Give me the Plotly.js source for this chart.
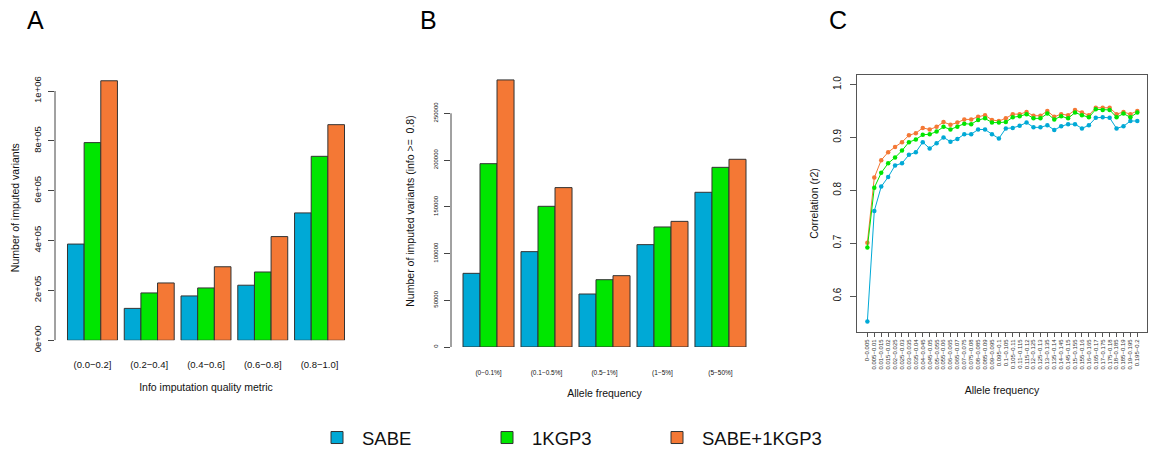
<!DOCTYPE html>
<html><head><meta charset="utf-8">
<script src="https://cdn.plot.ly/plotly-3.0.1.min.js"></script>
<style>html,body{margin:0;padding:0;background:#fff}#chart{width:1150px;height:457px}</style>
</head><body><div id="chart"></div>
<script>
// ---------- data ----------
const seriesNames = ["SABE", "1KGP3", "SABE+1KGP3"];
const seriesColors = ["#00A9D6", "#00E600", "#F47835"];

// Panel A
const infoBins = ["(0.0−0.2]", "(0.2−0.4]", "(0.4−0.6]", "(0.6−0.8]", "(0.8−1.0]"];
const infoSABE = [386000, 128000, 178000, 221000, 511000];
const info1KGP3 = [793000, 190000, 210000, 274000, 738000];
const infoBoth = [1041000, 230000, 295000, 416000, 865000];
const infoYTicks = [0, 200000, 400000, 600000, 800000, 1000000];
const infoYTickText = ["0e+00", "2e+05", "4e+05", "6e+05", "8e+05", "1e+06"];

// Panel B
const afBins = ["(0−0.1%]", "(0.1−0.5%]", "(0.5−1%]", "(1−5%]", "(5−50%]"];
const afSABE = [78800, 102000, 56700, 109500, 165500];
const af1KGP3 = [196100, 150500, 72000, 128400, 192200];
const afBoth = [285700, 170500, 76300, 134400, 200800];
const afYTicks = [0, 50000, 100000, 150000, 200000, 250000];
const afYTickText = ["0", "50000", "100000", "150000", "200000", "250000"];

// Panel C
const corrBins = ["0−0.005","0.005−0.01","0.01−0.015","0.015−0.02","0.02−0.025","0.025−0.03","0.03−0.035","0.035−0.04","0.04−0.045","0.045−0.05",
  "0.05−0.055","0.055−0.06","0.06−0.065","0.065−0.07","0.07−0.075","0.075−0.08","0.08−0.085","0.085−0.09","0.09−0.095","0.095−0.1",
  "0.1−0.105","0.105−0.11","0.11−0.115","0.115−0.12","0.12−0.125","0.125−0.13","0.13−0.135","0.135−0.14","0.14−0.145","0.145−0.15",
  "0.15−0.155","0.155−0.16","0.16−0.165","0.165−0.17","0.17−0.175","0.175−0.18","0.18−0.185","0.185−0.19","0.19−0.195","0.195−0.2"];
const corrSABE = [0.552,0.761,0.807,0.825,0.847,0.851,0.867,0.872,0.891,0.879,0.889,0.900,0.892,0.897,0.906,0.906,
  0.915,0.915,0.906,0.898,0.917,0.918,0.922,0.928,0.919,0.919,0.923,0.914,0.921,0.925,0.925,0.917,0.923,0.937,0.938,0.937,0.917,0.921,0.931,0.931];
const corr1KGP3 = [0.692,0.805,0.833,0.851,0.862,0.875,0.891,0.896,0.905,0.906,0.911,0.920,0.915,0.920,0.926,0.925,
  0.933,0.936,0.928,0.928,0.929,0.938,0.940,0.944,0.936,0.936,0.945,0.934,0.940,0.936,0.947,0.942,0.938,0.953,0.952,0.952,0.938,0.945,0.938,0.947];
const corrBoth = [0.701,0.824,0.857,0.872,0.882,0.891,0.904,0.908,0.918,0.915,0.920,0.929,0.924,0.928,0.934,0.934,
  0.939,0.942,0.933,0.931,0.936,0.944,0.944,0.948,0.941,0.941,0.950,0.939,0.944,0.942,0.952,0.947,0.942,0.956,0.956,0.956,0.944,0.948,0.944,0.950];
const corrYTicks = [0.6, 0.7, 0.8, 0.9, 1.0];
const corrYTickText = ["0.6", "0.7", "0.8", "0.9", "1.0"];

// ---------- layout helpers ----------
const W = 1150, H = 457;
const px = v => v / W;
const py = v => 1 - v / H;
const FONT = "Liberation Sans, Arial, Helvetica, sans-serif";
const edge = "#333333";

function barTrace(x, y, i, xa, ya, legend) {
  return {type: "bar", x: x, y: y, name: seriesNames[i], xaxis: xa, yaxis: ya,
    marker: {color: seriesColors[i], line: {color: edge, width: 1}},
    showlegend: legend, legendgroup: seriesNames[i], hoverinfo: "x+y+name"};
}
function lineTrace(x, y, i) {
  return {type: "scatter", mode: "lines+markers", x: x, y: y, name: seriesNames[i], xaxis: "x3", yaxis: "y3",
    line: {color: seriesColors[i], width: 1}, marker: {color: seriesColors[i], size: 4.5},
    showlegend: false, legendgroup: seriesNames[i]};
}

const infoSeries = [infoSABE, info1KGP3, infoBoth];
const afSeries = [afSABE, af1KGP3, afBoth];
const corrSeries = [corrSABE, corr1KGP3, corrBoth];

const traces = [];
infoSeries.forEach((s, i) => traces.push(barTrace(infoBins, s, i, "x", "y", true)));
afSeries.forEach((s, i) => traces.push(barTrace(afBins, s, i, "x2", "y2", false)));
[0, 2, 1].forEach(i => traces.push(lineTrace(corrBins, corrSeries[i], i)));

const titleFont = {family: FONT, size: 10.5, color: "#111"};

const layout = {
  width: W, height: H,
  margin: {l: 0, r: 0, t: 0, b: 0},
  paper_bgcolor: "#fff", plot_bgcolor: "#fff",
  font: {family: FONT, color: "#111"},
  barmode: "group", bargap: 0.12, bargroupgap: 0,
  showlegend: true,
  legend: {orientation: "h", x: px(312), xanchor: "left", y: 0, yanchor: "bottom",
    font: {family: FONT, size: 18.5, color: "#111"}, entrywidth: 115, entrywidthmode: "pixels",
    itemwidth: 40, bgcolor: "rgba(0,0,0,0)", traceorder: "normal"},
  xaxis: {domain: [px(55), px(357)], anchor: "y", type: "category", range: [-0.66, 4.66],
    showline: false, showgrid: false, zeroline: false, ticks: "", fixedrange: true,
    tickfont: {family: FONT, size: 9.5, color: "#111"}, ticklabelstandoff: 17,
    title: {text: "Info imputation quality metric", font: titleFont, standoff: 14}},
  yaxis: {domain: [py(340.3), py(75)], anchor: "x", range: [0, 1064200],
    showline: false, showgrid: false, zeroline: false, ticks: "outside", ticklen: 6, tickwidth: 1, tickcolor: "#444",
    tickmode: "array", tickvals: infoYTicks, ticktext: infoYTickText, tickangle: -90, ticklabelstandoff: 3,
    tickfont: {family: FONT, size: 9.5, color: "#111"}, fixedrange: true,
    title: {text: "Number of imputed variants", font: titleFont, standoff: 10}},
  xaxis2: {domain: [px(451), px(758)], anchor: "y2", type: "category", range: [-0.647, 4.647],
    showline: false, showgrid: false, zeroline: false, ticks: "", fixedrange: true,
    tickfont: {family: FONT, size: 6.5, color: "#111"}, ticklabelstandoff: 20,
    title: {text: "Allele frequency", font: titleFont, standoff: 14}},
  yaxis2: {domain: [py(347), py(75)], anchor: "x2", range: [0, 290970],
    showline: false, showgrid: false, zeroline: false, ticks: "outside", ticklen: 6, tickwidth: 1, tickcolor: "#444",
    tickmode: "array", tickvals: afYTicks, ticktext: afYTickText, tickangle: -90, ticklabelstandoff: 4,
    tickfont: {family: FONT, size: 6, color: "#111"}, fixedrange: true,
    title: {text: "Number of imputed variants (info >=  0.8)", font: titleFont, standoff: 15}},
  xaxis3: {domain: [px(857), px(1147)], anchor: "y3", type: "category", range: [-1.5, 40.4],
    showline: true, mirror: true, linecolor: "#555", linewidth: 1, showgrid: false, zeroline: false,
    ticks: "outside", ticklen: 4, tickwidth: 1, tickcolor: "#555", fixedrange: true,
    tickmode: "array", tickvals: corrBins, ticktext: corrBins, tickangle: -90,
    tickfont: {family: FONT, size: 6, color: "#333"},
    title: {text: "Allele frequency", font: titleFont, standoff: 18}},
  yaxis3: {domain: [py(332), py(75)], anchor: "x3", range: [0.532, 1.018],
    showline: true, mirror: true, linecolor: "#555", linewidth: 1, showgrid: false, zeroline: false,
    ticks: "outside", ticklen: 6, tickwidth: 1, tickcolor: "#555", fixedrange: true,
    tickmode: "array", tickvals: corrYTicks, ticktext: corrYTickText, tickangle: -90, ticklabelstandoff: 5,
    tickfont: {family: FONT, size: 10, color: "#111"},
    title: {text: "Correlation (r2)", font: titleFont, standoff: 11}},
  shapes: [
    {type: "line", xref: "x domain", x0: 0, x1: 0, yref: "y",
      y0: infoYTicks[0], y1: infoYTicks[infoYTicks.length - 1], line: {color: "#444", width: 1}},
    {type: "line", xref: "x2 domain", x0: 0, x1: 0, yref: "y2",
      y0: afYTicks[0], y1: afYTicks[afYTicks.length - 1], line: {color: "#444", width: 1}}
  ],
  annotations: [
    {text: "A", x: px(35), y: py(20), xref: "paper", yref: "paper", showarrow: false, xanchor: "center", yanchor: "middle", font: {family: FONT, size: 25, color: "#000"}},
    {text: "B", x: px(428), y: py(20), xref: "paper", yref: "paper", showarrow: false, xanchor: "center", yanchor: "middle", font: {family: FONT, size: 25, color: "#000"}},
    {text: "C", x: px(838), y: py(20), xref: "paper", yref: "paper", showarrow: false, xanchor: "center", yanchor: "middle", font: {family: FONT, size: 25, color: "#000"}}
  ]
};

Plotly.newPlot("chart", traces, layout, {displayModeBar: false, staticPlot: true});
</script>
</body></html>
